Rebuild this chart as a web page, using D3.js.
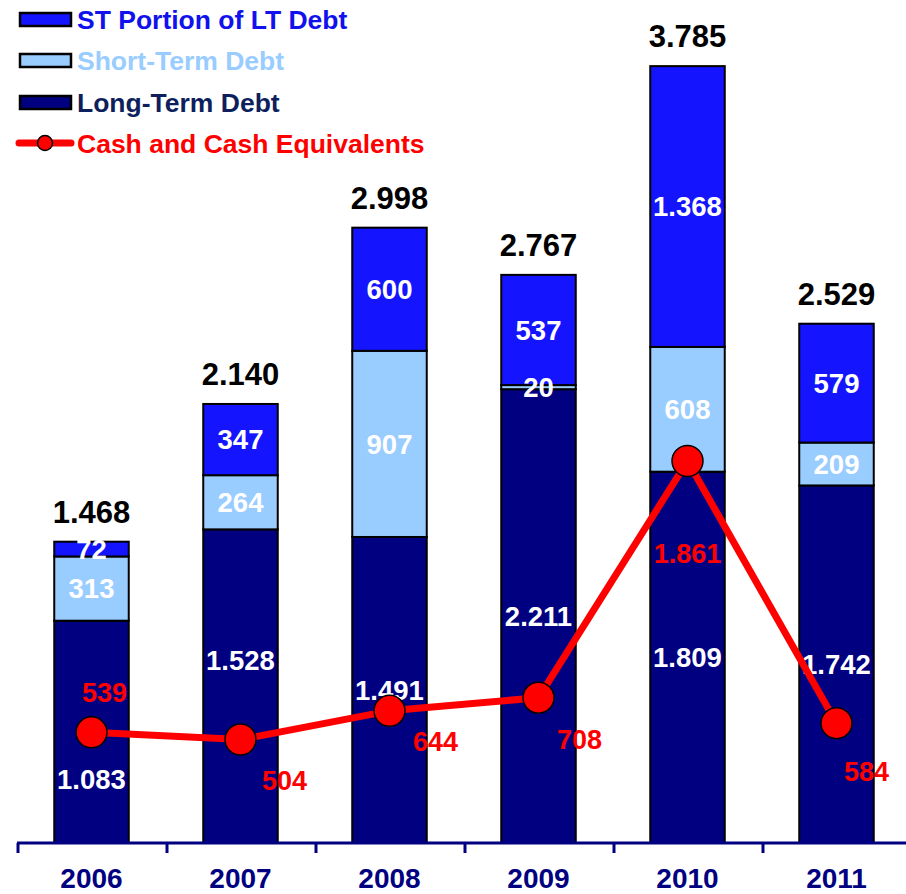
<!DOCTYPE html>
<html>
<head>
<meta charset="utf-8">
<script src="https://cdn.jsdelivr.net/npm/d3@7"></script>
<style>
  html, body { margin: 0; padding: 0; background: #fff; }
  svg { display: block; font-family: "Liberation Sans", Arial, sans-serif; font-weight: bold; }
</style>
</head>
<body>
<svg id="chart" width="906" height="894"></svg>
<script>
// Debt structure and cash position, 2006–2011
const years = ["2006", "2007", "2008", "2009", "2010", "2011"];
const longTermDebt = [1083, 1528, 1491, 2211, 1809, 1742];
const shortTermDebt = [313, 264, 907, 20, 608, 209];
const stPortionLtDebt = [72, 347, 600, 537, 1368, 579];
const totalDebt = [1468, 2140, 2998, 2767, 3785, 2529];
const cashEquivalents = [539, 504, 644, 708, 1861, 584];
const seriesNames = ["ST Portion of LT Debt", "Short-Term Debt", "Long-Term Debt", "Cash and Cash Equivalents"];

const colors = {
  stp: "#1414FF",
  st: "#99CCFF",
  lt: "#000080",
  cash: "#FF0000"
};
const legendTextColors = ["#1111EE", "#99CCFF", "#0D1F5C", "#FF0000"];

const svg = d3.select("#chart");
const W = 906, H = 894;
svg.append("rect").attr("width", W).attr("height", H).attr("fill", "#fff");

const baseY = 843;
const x = d3.scaleBand().domain(years).range([17, 911]).paddingInner(0.5).paddingOuter(0.25);
const y = d3.scaleLinear().domain([0, 4000]).range([baseY, 22]);

const fmt = d3.formatLocale({ decimal: ",", thousands: ".", grouping: [3], currency: ["", ""] }).format(",d");

const rows = years.map((yr, i) => ({ year: yr, lt: longTermDebt[i], st: shortTermDebt[i], stp: stPortionLtDebt[i] }));
const keys = ["lt", "st", "stp"];
const stacked = d3.stack().keys(keys)(rows);

// stacked bars
const layers = svg.append("g").selectAll("g").data(stacked).join("g")
  .attr("fill", d => colors[d.key]);
layers.selectAll("rect").data(d => d).join("rect")
  .attr("x", d => x(d.data.year))
  .attr("width", x.bandwidth())
  .attr("y", d => y(d[1]))
  .attr("height", d => y(d[0]) - y(d[1]))
  .attr("stroke", "#000")
  .attr("stroke-width", 2);

// segment value labels; long-term labels in the first two bars are moved clear of the cash line
const ltLabelShift = { "2006": 47, "2007": -26 };
const segLabels = svg.append("g").attr("fill", "#fff").attr("font-size", 27.5).attr("text-anchor", "middle");
stacked.forEach(layer => {
  layer.forEach(d => {
    const cy = (y(d[0]) + y(d[1])) / 2 + (layer.key === "lt" ? (ltLabelShift[d.data.year] || 0) : 0);
    segLabels.append("text")
      .attr("x", x(d.data.year) + x.bandwidth() / 2)
      .attr("y", cy)
      .attr("dy", "0.36em")
      .text(fmt(d.data[layer.key]));
  });
});

// totals above bars
svg.append("g").attr("font-size", 31).attr("text-anchor", "middle").attr("fill", "#000")
  .selectAll("text").data(years).join("text")
  .attr("x", d => x(d) + x.bandwidth() / 2)
  .attr("y", (d, i) => y(totalDebt[i]) - 19)
  .text((d, i) => fmt(totalDebt[i]));

// x axis
const axis = svg.append("g").attr("transform", `translate(0,${baseY})`)
  .call(d3.axisBottom(x).tickSize(0).tickFormat(""));
axis.select(".domain").remove();
axis.append("line").attr("x1", 17).attr("x2", W).attr("y1", 0).attr("y2", 0)
  .attr("stroke", "#000080").attr("stroke-width", 3);
const step = x.step();
axis.selectAll("line.sep").data(d3.range(years.length)).join("line")
  .attr("class", "sep")
  .attr("x1", i => 17 + step * i + 1).attr("x2", i => 17 + step * i + 1)
  .attr("y1", 0).attr("y2", 10)
  .attr("stroke", "#000080").attr("stroke-width", 3);
svg.append("g").attr("font-size", 28).attr("fill", "#000080").attr("text-anchor", "middle")
  .selectAll("text").data(years).join("text")
  .attr("x", d => x(d) + x.bandwidth() / 2)
  .attr("y", 888)
  .text(d => d);

// cash line
const cx = i => x(years[i]) + x.bandwidth() / 2;
const line = d3.line().x((d, i) => cx(i)).y(d => y(d));
svg.append("path").datum(cashEquivalents)
  .attr("d", line).attr("fill", "none")
  .attr("stroke", colors.cash).attr("stroke-width", 7).attr("stroke-linejoin", "round");
svg.append("g").selectAll("circle").data(cashEquivalents).join("circle")
  .attr("cx", (d, i) => cx(i)).attr("cy", d => y(d)).attr("r", 15.5)
  .attr("fill", colors.cash).attr("stroke", "#000").attr("stroke-width", 1.5);

const cashLabelNudge = [[13, -40], [44, 41], [46, 30], [41, 42], [0, 92], [30, 48]];
svg.append("g").attr("font-size", 27).attr("fill", colors.cash).attr("text-anchor", "middle")
  .selectAll("text").data(cashEquivalents).join("text")
  .attr("x", (d, i) => cx(i) + cashLabelNudge[i][0])
  .attr("y", (d, i) => y(d) + cashLabelNudge[i][1])
  .attr("dy", "0.36em")
  .text(d => fmt(d));

// legend
const legend = svg.append("g");
const legendFill = [colors.stp, colors.st, colors.lt];
const rowY = [19.5, 60.5, 102.5, 143];
seriesNames.forEach((name, i) => {
  const g = legend.append("g");
  if (i < 3) {
    g.append("rect").attr("x", 20).attr("y", rowY[i] - 6.5).attr("width", 51).attr("height", 13)
      .attr("fill", legendFill[i]).attr("stroke", "#000").attr("stroke-width", 2.5);
  } else {
    g.append("line").attr("x1", 19).attr("x2", 71).attr("y1", rowY[i]).attr("y2", rowY[i])
      .attr("stroke", colors.cash).attr("stroke-width", 7).attr("stroke-linecap", "round");
    g.append("circle").attr("cx", 45).attr("cy", rowY[i]).attr("r", 7.5)
      .attr("fill", colors.cash).attr("stroke", "#000").attr("stroke-width", 1.5);
  }
  g.append("text").attr("x", 77).attr("y", rowY[i]).attr("dy", "0.36em")
    .attr("font-size", 26.5).attr("fill", legendTextColors[i]).text(name);
});
</script>
</body>
</html>
